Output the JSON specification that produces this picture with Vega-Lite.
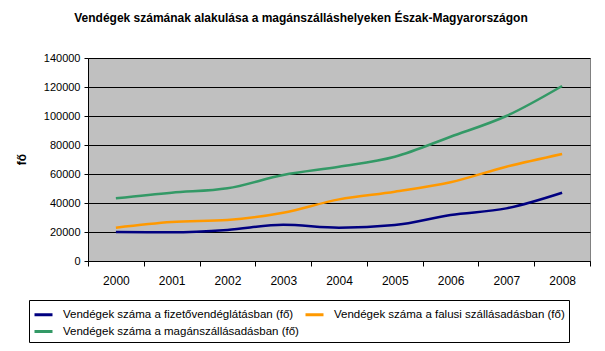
{
  "$schema": "https://vega.github.io/schema/vega-lite/v6.json",
  "width": 502,
  "height": 203,
  "autosize": {"type": "none"},
  "padding": {"left": 88, "top": 58, "right": 15, "bottom": 90},
  "background": "white",
  "title": {
    "text": "Vendégek számának alakulása a magánszálláshelyeken Észak-Magyarországon",
    "fontSize": 12,
    "fontWeight": "bold",
    "font": "Liberation Sans",
    "color": "black",
    "anchor": "middle",
    "offset": 27,
    "dx": -38
  },
  "config": {
    "font": "Liberation Sans",
    "view": {"fill": "#C0C0C0", "stroke": "#808080", "strokeWidth": 1}
  },
  "data": {
    "values": [
      {"ev": 2000, "sorozat": "Vendégek száma a  fizetővendéglátásban (fő)", "fo": 20000},
      {"ev": 2001, "sorozat": "Vendégek száma a  fizetővendéglátásban (fő)", "fo": 19800},
      {"ev": 2002, "sorozat": "Vendégek száma a  fizetővendéglátásban (fő)", "fo": 21400},
      {"ev": 2003, "sorozat": "Vendégek száma a  fizetővendéglátásban (fő)", "fo": 25000},
      {"ev": 2004, "sorozat": "Vendégek száma a  fizetővendéglátásban (fő)", "fo": 23000},
      {"ev": 2005, "sorozat": "Vendégek száma a  fizetővendéglátásban (fő)", "fo": 24800},
      {"ev": 2006, "sorozat": "Vendégek száma a  fizetővendéglátásban (fő)", "fo": 31700},
      {"ev": 2007, "sorozat": "Vendégek száma a  fizetővendéglátásban (fő)", "fo": 36300},
      {"ev": 2008, "sorozat": "Vendégek száma a  fizetővendéglátásban (fő)", "fo": 47100},
      {"ev": 2000, "sorozat": "Vendégek száma a falusi szállásadásban (fő)", "fo": 23000},
      {"ev": 2001, "sorozat": "Vendégek száma a falusi szállásadásban (fő)", "fo": 26900},
      {"ev": 2002, "sorozat": "Vendégek száma a falusi szállásadásban (fő)", "fo": 28300},
      {"ev": 2003, "sorozat": "Vendégek száma a falusi szállásadásban (fő)", "fo": 33300},
      {"ev": 2004, "sorozat": "Vendégek száma a falusi szállásadásban (fő)", "fo": 42500},
      {"ev": 2005, "sorozat": "Vendégek száma a falusi szállásadásban (fő)", "fo": 47800},
      {"ev": 2006, "sorozat": "Vendégek száma a falusi szállásadásban (fő)", "fo": 54300},
      {"ev": 2007, "sorozat": "Vendégek száma a falusi szállásadásban (fő)", "fo": 65000},
      {"ev": 2008, "sorozat": "Vendégek száma a falusi szállásadásban (fő)", "fo": 73800},
      {"ev": 2000, "sorozat": "Vendégek száma a magánszállásadásban (fő)", "fo": 43200},
      {"ev": 2001, "sorozat": "Vendégek száma a magánszállásadásban (fő)", "fo": 47100},
      {"ev": 2002, "sorozat": "Vendégek száma a magánszállásadásban (fő)", "fo": 50100},
      {"ev": 2003, "sorozat": "Vendégek száma a magánszállásadásban (fő)", "fo": 59300},
      {"ev": 2004, "sorozat": "Vendégek száma a magánszállásadásban (fő)", "fo": 65000},
      {"ev": 2005, "sorozat": "Vendégek száma a magánszállásadásban (fő)", "fo": 71900},
      {"ev": 2006, "sorozat": "Vendégek száma a magánszállásadásban (fő)", "fo": 85700},
      {"ev": 2007, "sorozat": "Vendégek száma a magánszállásadásban (fő)", "fo": 100000},
      {"ev": 2008, "sorozat": "Vendégek száma a magánszállásadásban (fő)", "fo": 120700}
    ]
  },
  "mark": {"type": "line", "strokeWidth": 2.5, "interpolate": "monotone"},
  "encoding": {
    "x": {
      "field": "ev",
      "type": "quantitative",
      "scale": {"domain": [1999.5, 2008.5], "nice": false, "zero": false},
      "axis": {
        "title": null,
        "values": [1999.5, 2000.5, 2001.5, 2002.5, 2003.5, 2004.5, 2005.5, 2006.5, 2007.5, 2008.5],
        "labelExpr": "datum.value > 2008 ? '' : toString(datum.value + 0.5)",
        "labelOffset": 27.9,
        "labelFontSize": 12,
        "labelColor": "black",
        "labelPadding": 9,
        "labelFlush": false,
        "labelOverlap": false,
        "grid": false,
        "domainColor": "black",
        "tickColor": "black",
        "tickSize": 5
      }
    },
    "y": {
      "field": "fo",
      "type": "quantitative",
      "scale": {"domain": [0, 140000], "nice": false},
      "axis": {
        "title": "fő",
        "titleFontSize": 12,
        "titleFontWeight": "bold",
        "titleColor": "black",
        "titleX": -67,
        "titleY": 101,
        "titleAngle": -90,
        "titleBaseline": "middle",
        "titleAlign": "center",
        "values": [0, 20000, 40000, 60000, 80000, 100000, 120000, 140000],
        "format": "d",
        "labelFontSize": 11,
        "labelColor": "black",
        "labelPadding": 4,
        "gridColor": "black",
        "gridOpacity": 1,
        "domainColor": "black",
        "tickColor": "black",
        "tickSize": 4
      }
    },
    "color": {
      "field": "sorozat",
      "type": "nominal",
      "scale": {
        "domain": [
          "Vendégek száma a  fizetővendéglátásban (fő)",
          "Vendégek száma a falusi szállásadásban (fő)",
          "Vendégek száma a magánszállásadásban (fő)"
        ],
        "range": ["#000080", "#FF9900", "#339966"]
      },
      "legend": {
        "title": null,
        "orient": "none",
        "legendX": -59,
        "legendY": 242,
        "direction": "horizontal",
        "columns": 2,
        "columnPadding": 0,
        "rowPadding": 0,
        "padding": 4,
        "strokeColor": "black",
        "fillColor": "white",
        "symbolType": "stroke",
        "symbolSize": 324,
        "symbolStrokeWidth": 3,
        "labelFontSize": 11.5,
        "labelColor": "black",
        "labelLimit": 400,
        "labelOffset": 9
      }
    }
  }
}
